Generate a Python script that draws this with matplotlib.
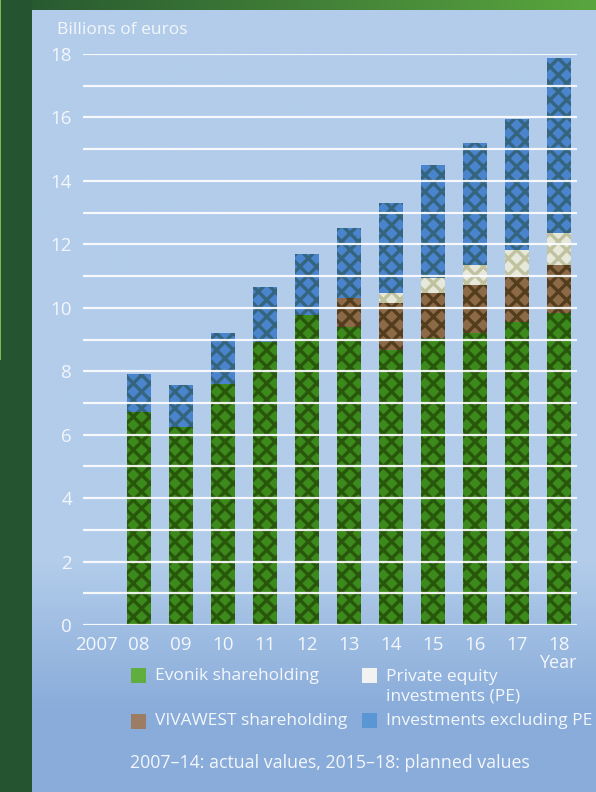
import matplotlib
matplotlib.use("Agg")
import matplotlib.pyplot as plt
import numpy as np
from matplotlib.patches import Rectangle

years = ['2007', '08', '09', '10', '11', '12', '13', '14', '15', '16', '17', '18']
evonik = [0, 6.70, 6.25, 7.60, 8.93, 9.77, 9.40, 8.67, 9.05, 9.20, 9.55, 9.84]
vivawest = [0, 0, 0, 0, 0, 0, 0.90, 1.48, 1.42, 1.52, 1.48, 1.51]
private_equity = [0, 0, 0, 0, 0, 0, 0, 0.32, 0.47, 0.63, 0.79, 1.01]
invest_ex_pe = [0, 1.20, 1.30, 1.60, 1.72, 1.93, 2.20, 2.83, 3.56, 3.85, 4.13, 5.51]

W, H = 596, 792
plt.rcParams['font.family'] = ['Open Sans', 'DejaVu Sans']
fig = plt.figure(figsize=(W / 100, H / 100), dpi=100)

# background frame
bg = fig.add_axes([0, 0, 1, 1], zorder=-10)
bg.set_xlim(0, W); bg.set_ylim(H, 0); bg.axis('off')
ys = np.linspace(0, 1, 400)
col_top = np.array([178, 204, 234]) / 255
col_bot = np.array([137, 172, 218]) / 255
t = np.clip((ys * H - 560) / 150, 0, 1)
grad = col_top[None, :] * (1 - t[:, None]) + col_bot[None, :] * t[:, None]
img = np.repeat(grad[:, None, :], 2, axis=1)
bg.imshow(img, extent=[32, W, H, 10], aspect='auto', interpolation='bilinear')
xs = np.linspace(0, 1, 300)
c1 = np.array([38, 86, 48]) / 255
c2 = np.array([90, 166, 62]) / 255
strip = c1[None, :] * (1 - xs[:, None]) + c2[None, :] * xs[:, None]
bg.imshow(strip[None, :, :], extent=[0, W, 10, 0], aspect='auto', interpolation='bilinear')
bg.add_patch(Rectangle((0, 0), 32, H, color=(36 / 255, 84 / 255, 48 / 255), lw=0))
bg.add_patch(Rectangle((0, 0), 1.2, 360, color=(120 / 255, 190 / 255, 70 / 255), lw=0))
bg.set_xlim(0, W); bg.set_ylim(H, 0)

# main axes
ax = fig.add_axes([83 / W, (H - 625) / H, (577 - 83) / W, (625 - 54) / H])
ax.patch.set_alpha(0)
x = np.arange(len(years))
ax.set_xlim(-0.333, 11.43)
ax.set_ylim(0, 18)
for s in ax.spines.values():
    s.set_visible(False)

wbar = 0.58
segs = [
    (evonik, '#3d8a1c', '#1a3600'),
    (vivawest, '#8c6a48', '#2e2000'),
    (private_equity, '#e6e8da', '#a8a878'),
    (invest_ex_pe, '#4a84cc', '#26504a'),
]
bottom = np.zeros(len(years))
plt.rcParams['hatch.linewidth'] = 2.4
for vals, fc, hc in segs:
    v = np.array(vals)
    ax.bar(x, v, bottom=bottom, width=wbar, color=fc, lw=0, zorder=2, clip_on=False)
    ax.bar(x, v, bottom=bottom, width=wbar, facecolor='none', edgecolor=hc,
           hatch='xx', lw=0, zorder=2.5, alpha=0.6, clip_on=False)
    bottom = bottom + v

ax.set_yticks(np.arange(0, 19, 1))
ax.yaxis.grid(True, color='white', lw=1.6, alpha=0.9, zorder=3)
ax.set_axisbelow(False)
ax.set_yticklabels([str(v) if v % 2 == 0 else '' for v in range(19)])
ax.set_xticks(x)
ax.set_xticklabels(years)
ax.tick_params(axis='both', length=0, labelcolor='#f4f7fb', labelsize=13.5)
ax.tick_params(axis='y', pad=8)
ax.tick_params(axis='x', pad=8)

tc = '#f4f7fb'
fs = 12.8
fig.text(57 / W, 1 - 30 / H, 'Billions of euros', color=tc, fontsize=12.5, va='center', ha='left')
fig.text(577 / W, 1 - 663 / H, 'Year', color=tc, fontsize=13, va='center', ha='right')

legend_items = [
    (131, 668, '#5fae3e', 'Evonik shareholding', 155, 676),
    (131, 714, '#9c7c62', 'VIVAWEST shareholding', 155, 721),
    (362, 668, '#f2f2f2', 'Private equity\ninvestments (PE)', 386, 687),
    (362, 713, '#5b96d4', 'Investments excluding PE', 386, 721),
]
for sx, sy, c, lab, tx, ty in legend_items:
    fig.patches.append(Rectangle((sx / W, 1 - (sy + 15) / H), 15 / W, 15 / H,
                                 transform=fig.transFigure, color=c, lw=0))
    fig.text(tx / W, 1 - ty / H, lab, color=tc, fontsize=12.5, va='center', ha='left',
             linespacing=1.3)

fig.text(130 / W, 1 - 763 / H, '2007–14: actual values, 2015–18: planned values',
         color=tc, fontsize=fs, va='center', ha='left')

fig.savefig('out.png', dpi=100)
